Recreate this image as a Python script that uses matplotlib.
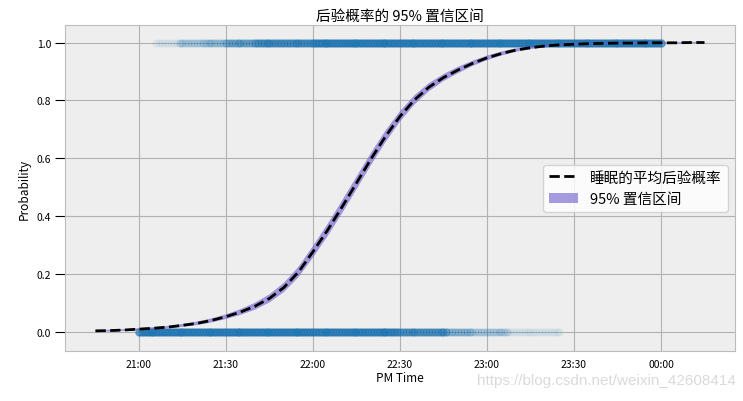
import numpy as np
import matplotlib
matplotlib.use('Agg')
import matplotlib.pyplot as plt

plt.rcParams['font.family'] = ['Noto Sans CJK SC', 'DejaVu Sans']
plt.rcParams['axes.unicode_minus'] = False

# minutes relative to 22:00
time_est = list(range(-75, 140, 5))
sleep_mean = [0.005, 0.006, 0.008, 0.011, 0.014, 0.018, 0.024, 0.031, 0.041,
              0.054, 0.070, 0.090, 0.117, 0.155, 0.208,
              0.278, 0.352, 0.432, 0.515, 0.598, 0.676, 0.745, 0.802, 0.846,
              0.879, 0.905, 0.928, 0.947, 0.962, 0.974, 0.982, 0.988, 0.992,
              0.994, 0.996, 0.997, 0.998, 0.998, 0.999, 0.999, 0.999, 1.000,
              1.000]
ci_half = [0.003, 0.003, 0.003, 0.003, 0.004, 0.004, 0.005, 0.006, 0.007,
           0.008, 0.010, 0.012, 0.014, 0.016, 0.018,
           0.020, 0.021, 0.022, 0.022, 0.021, 0.020, 0.018, 0.016, 0.014,
           0.012, 0.011, 0.009, 0.008, 0.007, 0.006, 0.005, 0.004, 0.004,
           0.003, 0.003, 0.003, 0.003, 0.003, 0.002, 0.002, 0.002, 0.002,
           0.002]

# observations: minute ranges [start, end) and nights per minute
asleep_start = [-54, -46, -38, -30, -20, 0]
asleep_end = [-46, -38, -30, -20, 0, 121]
asleep_count = [1, 3, 4, 7, 11, 15]
awake_start = [-60, 0, 30, 47, 55, 68]
awake_end = [0, 30, 47, 55, 68, 86]
awake_count = [15, 14, 10, 5, 3, 1]

tick_pos = [-60, -30, 0, 30, 60, 90, 120]
tick_labels = ['21:00', '21:30', '22:00', '22:30', '23:00', '23:30', '00:00']


def expand(starts, ends, counts):
    """Turns minute ranges with counts into a list of observation times"""
    times = []
    for s, e, c in zip(starts, ends, counts):
        times.extend(np.repeat(np.arange(s, e), c))
    return np.array(times)


asleep_t = expand(asleep_start, asleep_end, asleep_count)
awake_t = expand(awake_start, awake_end, awake_count)
t = np.array(time_est)
mean = np.array(sleep_mean)
half = np.array(ci_half)

fig = plt.figure(figsize=(7.43, 4.02), dpi=100)
ax = fig.add_axes([0.0875, 0.124, 0.9016, 0.811])
ax.set_facecolor('#eeeeee')
ax.grid(True, color='#b2b2b2', linewidth=0.8)
ax.set_axisbelow(True)
for sp in ax.spines.values():
    sp.set_color('#bcbcbc')

ax.scatter(asleep_t, np.ones(len(asleep_t)), s=25, color='#1f77b4',
           alpha=0.05, zorder=2)
ax.scatter(awake_t, np.zeros(len(awake_t)), s=25, color='#1f77b4',
           alpha=0.05, zorder=2)
ax.fill_between(t, mean - half, mean + half, facecolor='slateblue',
                alpha=0.6, label='95% 置信区间', zorder=3)
ax.plot(t, mean, 'k--', linewidth=2, label='睡眠的平均后验概率', zorder=4)

ax.set_ylim(-0.065, 1.06)
ax.set_xticks(tick_pos)
ax.set_xticklabels(tick_labels)
ax.set_yticks([0.0, 0.2, 0.4, 0.6, 0.8, 1.0])
ax.tick_params(axis='x', length=0, labelsize=7.5, pad=6)
ax.tick_params(axis='y', length=7, labelsize=7.5, color='black', pad=3)
ax.set_xlabel('PM Time', fontsize=8.5, labelpad=1)
ax.set_ylabel('Probability', fontsize=8.5)
ax.set_title('后验概率的 95% 置信区间', fontsize=10.5, pad=4)

handles, labels = ax.get_legend_handles_labels()
ax.legend(handles[::-1], labels[::-1], loc='center right', fontsize=10.5,
          framealpha=0.8)

fig.text(0.99, 0.035, 'https://blog.csdn.net/weixin_42608414',
         ha='right', va='bottom', fontsize=11, color='#dadada',
         family=['Liberation Sans', 'DejaVu Sans'])

fig.savefig('out.png', dpi=100)
